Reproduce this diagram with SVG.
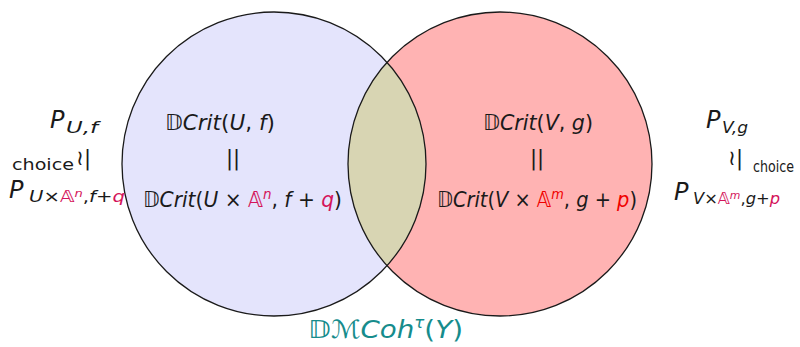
<svg xmlns="http://www.w3.org/2000/svg" width="800" height="347" viewBox="0 0 800 347">
<style>
text{font-family:"DejaVu Sans","Liberation Sans",sans-serif;fill:#1a1a1a}
.m{font-size:21px}
.o{font-size:24px}
.s{font-size:15px}
.i{font-style:italic}
.cr{fill:#d4145a}
.rd{fill:#f00000}
.tl{fill:#168c8c}
.ring{stroke:#1a1a1a;stroke-width:1.3;fill:none}
</style>
<defs>
<clipPath id="clipL"><circle cx="274" cy="164" r="152"/></clipPath>
</defs>
<g id="circle-left">
<circle cx="274" cy="164" r="152" fill="#e4e4fc"/>
</g>
<g id="circle-right">
<circle cx="500" cy="164" r="152" fill="#ffb3b3"/>
</g>
<g id="intersection">
<circle cx="500" cy="164" r="152" fill="#d8d5b3" clip-path="url(#clipL)"/>
</g>
<g id="outlines">
<circle class="ring" cx="274" cy="164" r="152"/>
<circle class="ring" cx="500" cy="164" r="152"/>
</g>
<g id="connectors"></g>
<g id="node-left-text">
<text class="m" x="165" y="130" textLength="110" lengthAdjust="spacingAndGlyphs">𝔻<tspan class="i">Crit</tspan>(<tspan class="i">U</tspan>, <tspan class="i">f</tspan>)</text>
<text class="m" x="233" y="165" text-anchor="middle">||</text>
<text class="m" x="143" y="207" textLength="199" lengthAdjust="spacingAndGlyphs">𝔻<tspan class="i">Crit</tspan>(<tspan class="i">U</tspan> × <tspan class="cr">𝔸</tspan><tspan class="cr i" font-size="14" baseline-shift="8">n</tspan>, <tspan class="i">f</tspan> + <tspan class="cr i">q</tspan>)</text>
</g>
<g id="node-right-text">
<text class="m" x="483" y="130" textLength="110" lengthAdjust="spacingAndGlyphs">𝔻<tspan class="i">Crit</tspan>(<tspan class="i">V</tspan>, <tspan class="i">g</tspan>)</text>
<text class="m" x="537" y="165" text-anchor="middle">||</text>
<text class="m" x="437" y="207" textLength="200" lengthAdjust="spacingAndGlyphs">𝔻<tspan class="i">Crit</tspan>(<tspan class="i">V</tspan> × <tspan class="rd">𝔸</tspan><tspan class="rd i" font-size="14" baseline-shift="8">m</tspan>, <tspan class="i">g</tspan> + <tspan class="rd i">p</tspan>)</text>
</g>
<g id="label-left">
<text class="o i" x="50" y="128">P</text>
<text class="s i" x="66" y="133" textLength="32" lengthAdjust="spacingAndGlyphs">U,f</text>
<text class="s" x="12" y="170" textLength="62" lengthAdjust="spacingAndGlyphs">choice</text>
<text class="m" x="76" y="165">≀|</text>
<text class="o i" x="9" y="198">P</text>
<text class="s" x="29" y="202" textLength="96" lengthAdjust="spacingAndGlyphs"><tspan class="i">U</tspan>×<tspan class="cr">𝔸</tspan><tspan class="cr i" font-size="10" baseline-shift="5">n</tspan>,<tspan class="i">f</tspan>+<tspan class="cr i">q</tspan></text>
</g>
<g id="label-right">
<text class="o i" x="706" y="128">P</text>
<text class="s i" x="722" y="133" textLength="26" lengthAdjust="spacingAndGlyphs">V,g</text>
<text class="m" x="728" y="165">≀|</text>
<text class="s" x="753" y="172" textLength="41" lengthAdjust="spacingAndGlyphs">choice</text>
<text class="o i" x="674" y="200">P</text>
<text class="s" x="693" y="204" textLength="87" lengthAdjust="spacingAndGlyphs"><tspan class="i">V</tspan>×<tspan class="cr">𝔸</tspan><tspan class="cr i" font-size="10" baseline-shift="5">m</tspan>,<tspan class="i">g</tspan>+<tspan class="cr i">p</tspan></text>
</g>
<g id="label-bottom">
<text class="tl" x="308" y="338" font-size="25" textLength="155" lengthAdjust="spacingAndGlyphs">𝔻ℳ<tspan class="i">Coh</tspan><tspan class="i" font-size="15" baseline-shift="10">τ</tspan>(<tspan class="i">Y</tspan>)</text>
</g>
</svg>
